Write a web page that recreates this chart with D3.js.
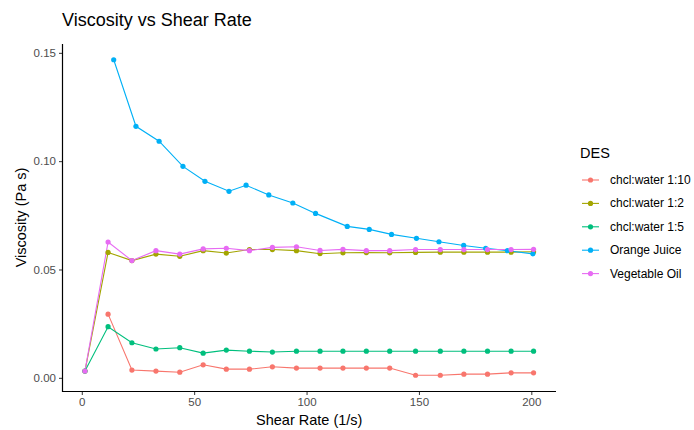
<!DOCTYPE html>
<html>
<head>
<meta charset="utf-8">
<script src="https://cdn.jsdelivr.net/npm/d3@7"></script>
<style>
  body { margin: 0; background: #fff; }
  text { font-family: "Liberation Sans", Arial, sans-serif; }
</style>
</head>
<body>
<div class="canvas"></div>
<script>
// shear rates for the DES / oil runs and for the juice run
const shearRate = [1.4, 11.7, 22.3, 33.0, 43.6, 54.0, 64.3, 74.6, 84.8, 95.5, 106.0, 116.2, 126.6, 137.0, 148.5, 159.5, 170.0, 180.5, 191.0, 201.0];
const juiceRate = [14.2, 24.1, 34.4, 45.0, 54.8, 65.5, 73.1, 83.2, 93.9, 104.0, 118.1, 127.9, 137.8, 148.9, 158.9, 169.9, 179.7, 189.4, 200.7];

const water110 = [null, 0.0294, 0.0036, 0.0031, 0.0026, 0.0060, 0.0040, 0.0040, 0.0051, 0.0045, 0.0045, 0.0045, 0.0045, 0.0045, 0.0012, 0.0012, 0.0017, 0.0017, 0.0023, 0.0023];
const water12 = [0.0031, 0.0579, 0.0541, 0.0571, 0.0561, 0.0587, 0.0576, 0.0592, 0.0592, 0.0587, 0.0573, 0.0577, 0.0578, 0.0577, 0.0579, 0.0580, 0.0580, 0.0580, 0.0580, 0.0582];
const water15 = [0.0031, 0.0236, 0.0162, 0.0133, 0.0139, 0.0114, 0.0128, 0.0123, 0.0119, 0.0123, 0.0123, 0.0123, 0.0123, 0.0123, 0.0123, 0.0123, 0.0123, 0.0123, 0.0123, 0.0123];
const orangeJuice = [0.1468, 0.1161, 0.1092, 0.0976, 0.0907, 0.0861, 0.0889, 0.0844, 0.0807, 0.0759, 0.0699, 0.0685, 0.0662, 0.0644, 0.0628, 0.0611, 0.0598, 0.0587, 0.0572];
const vegOil = [0.0031, 0.0627, 0.0541, 0.0587, 0.0571, 0.0595, 0.0598, 0.0587, 0.0602, 0.0605, 0.0588, 0.0593, 0.0587, 0.0587, 0.0592, 0.0592, 0.0592, 0.0592, 0.0592, 0.0593];

const seriesNames = ['chcl:water 1:10', 'chcl:water 1:2', 'chcl:water 1:5', 'Orange Juice', 'Vegetable Oil'];
const colors = ['#F8766D', '#A3A500', '#00BF7D', '#00B0F6', '#E76BF3'];

const xTicks = [0, 50, 100, 150, 200];
const yTicks = [0, 0.05, 0.10, 0.15];

const width = 694;
const height = 430;
const panel = {left: 62.5, right: 556, top: 44, bottom: 391};

const toPoints = (xs, ys) => ys.map((v, i) => ({x: xs[i], y: v})).filter(d => d.y !== null);

const series = [
    {name: seriesNames[0], points: toPoints(shearRate, water110)},
    {name: seriesNames[1], points: toPoints(shearRate, water12)},
    {name: seriesNames[2], points: toPoints(shearRate, water15)},
    {name: seriesNames[3], points: toPoints(juiceRate, orangeJuice)},
    {name: seriesNames[4], points: toPoints(shearRate, vegOil)}
];

const allPoints = series.flatMap(s => s.points);

// ggplot style 5% padding on both scales
const pad = ([lo, hi]) => [lo - (hi - lo) * 0.05, hi + (hi - lo) * 0.05];

const x = d3.scaleLinear()
    .domain(pad(d3.extent(allPoints, d => d.x)))
    .range([panel.left, panel.right]);

const y = d3.scaleLinear()
    .domain(pad(d3.extent(allPoints, d => d.y)))
    .range([panel.bottom, panel.top]);

const color = d3.scaleOrdinal().domain(seriesNames).range(colors);

const svg = d3.select('.canvas')
    .append('svg')
    .attr('width', width)
    .attr('height', height);

// Title
svg.append('text')
    .attr('x', 62)
    .attr('y', 26)
    .attr('font-size', 18)
    .attr('fill', '#000')
    .text('Viscosity vs Shear Rate');

// Axes
const xAxis = d3.axisBottom(x)
    .tickValues(xTicks)
    .tickSize(3.5)
    .tickPadding(3)
    .tickFormat(d3.format('d'));

const yAxis = d3.axisLeft(y)
    .tickValues(yTicks)
    .tickSize(3.5)
    .tickPadding(3)
    .tickFormat(d3.format('.2f'));

const xAxisGroup = svg.append('g')
    .attr('transform', `translate(0, ${panel.bottom + 0.5})`)
    .call(xAxis);

const yAxisGroup = svg.append('g')
    .attr('transform', `translate(${panel.left}, 0)`)
    .call(yAxis);

[xAxisGroup, yAxisGroup].forEach(g => {
    g.select('.domain').remove();
    g.selectAll('.tick line').attr('stroke', '#333').attr('stroke-width', 1);
    g.selectAll('.tick text')
        .attr('fill', '#4d4d4d')
        .attr('font-size', 11.5)
        .attr('font-family', '"Liberation Sans", Arial, sans-serif');
});

// axis lines (theme_classic)
svg.append('line')
    .attr('x1', panel.left).attr('x2', panel.right)
    .attr('y1', panel.bottom + 0.5).attr('y2', panel.bottom + 0.5)
    .attr('stroke', '#000').attr('stroke-width', 1.2);

svg.append('line')
    .attr('x1', panel.left).attr('x2', panel.left)
    .attr('y1', panel.top).attr('y2', panel.bottom + 1)
    .attr('stroke', '#000').attr('stroke-width', 1.2);

// Axis titles
svg.append('text')
    .attr('x', (panel.left + panel.right) / 2)
    .attr('y', 425)
    .attr('text-anchor', 'middle')
    .attr('font-size', 14.5)
    .text('Shear Rate (1/s)');

svg.append('text')
    .attr('transform', `translate(26, ${(panel.top + panel.bottom) / 2}) rotate(-90)`)
    .attr('text-anchor', 'middle')
    .attr('font-size', 14.5)
    .text('Viscosity (Pa s)');

// Lines then points
const line = d3.line()
    .x(d => x(d.x))
    .y(d => y(d.y));

svg.append('g').selectAll('path')
    .data(series)
    .enter()
    .append('path')
    .attr('fill', 'none')
    .attr('stroke', d => color(d.name))
    .attr('stroke-width', 1.1)
    .attr('d', d => line(d.points));

svg.append('g').selectAll('g')
    .data(series)
    .enter()
    .append('g')
    .attr('fill', d => color(d.name))
    .selectAll('circle')
    .data(d => d.points)
    .enter()
    .append('circle')
    .attr('cx', d => x(d.x))
    .attr('cy', d => y(d.y))
    .attr('r', 2.6);

// Legend
const legend = svg.append('g')
    .attr('transform', 'translate(580, 0)');

legend.append('text')
    .attr('x', 0)
    .attr('y', 158)
    .attr('font-size', 14.5)
    .text('DES');

const items = legend.selectAll('.item')
    .data(seriesNames)
    .enter()
    .append('g')
    .attr('class', 'item')
    .attr('transform', (d, i) => `translate(0, ${180 + i * 23.4})`);

items.append('line')
    .attr('x1', 2).attr('x2', 19)
    .attr('stroke', d => color(d))
    .attr('stroke-width', 1.1);

items.append('circle')
    .attr('cx', 10.5)
    .attr('r', 2.6)
    .attr('fill', d => color(d));

items.append('text')
    .attr('x', 30)
    .attr('y', 4)
    .attr('font-size', 12)
    .text(d => d);
</script>
</body>
</html>
